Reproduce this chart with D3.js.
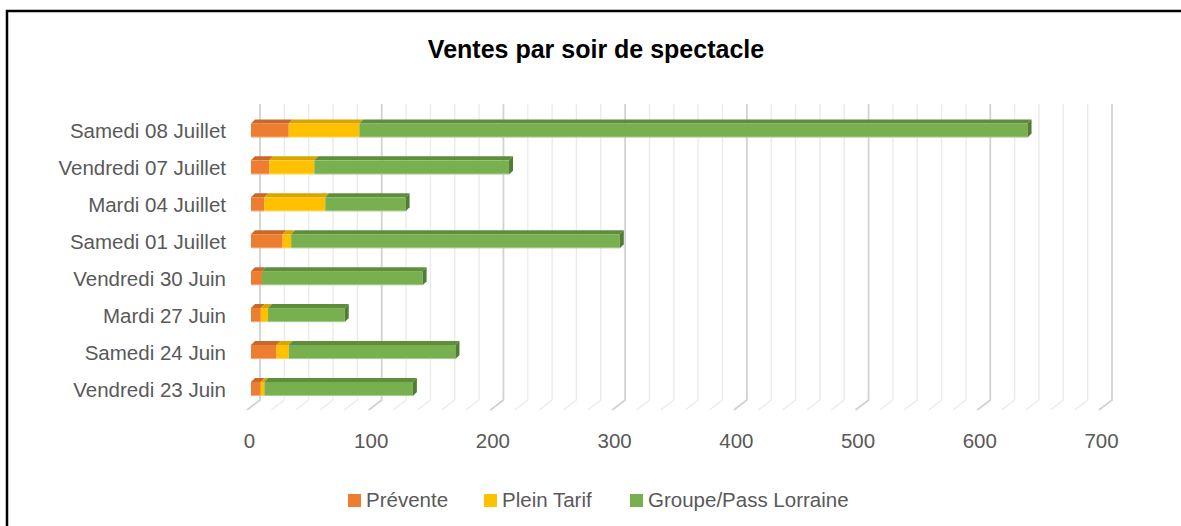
<!DOCTYPE html>
<html>
<head>
<meta charset="utf-8">
<script src="https://cdn.jsdelivr.net/npm/d3@7"></script>
<style>
  body { margin: 0; background: #fff; overflow: hidden; }
  svg { display: block; font-family: "Liberation Sans", Arial, sans-serif; }
</style>
</head>
<body>
<div id="chart"></div>
<script>
// data, top row first
var categories = ["Samedi 08 Juillet", "Vendredi 07 Juillet", "Mardi 04 Juillet", "Samedi 01 Juillet",
                  "Vendredi 30 Juin", "Mardi 27 Juin", "Samedi 24 Juin", "Vendredi 23 Juin"];
var series = ["Prévente", "Plein Tarif", "Groupe/Pass Lorraine"];
var prevente   = [31, 15, 11, 26, 9, 8, 21, 8];
var pleinTarif = [58, 37, 50, 7, 0, 6, 10, 3];
var groupePass = [549, 160, 66, 270, 132, 63, 137, 122];
var ticks = [0, 100, 200, 300, 400, 500, 600, 700];

var colors = {
  "Prévente":             { front: "#ED7D31", top: "#C8692A" },
  "Plein Tarif":          { front: "#FFC000", top: "#D9A400" },
  "Groupe/Pass Lorraine": { front: "#78B04F", top: "#5E8D3C", side: "#507C33" }
};

var W = 1181, H = 526;
var depth = 4;       // bar depth offset
var floorDx = -13, floorDy = 10;

var svg = d3.select("#chart").append("svg")
    .attr("width", W).attr("height", H);

svg.append("rect").attr("width", W).attr("height", H).attr("fill", "#fff");

// chart border (right and bottom run off the picture)
svg.append("rect")
    .attr("x", 7).attr("y", 11)
    .attr("width", W + 20).attr("height", H)
    .attr("fill", "none").attr("stroke", "#000").attr("stroke-width", 2.5);

// title
svg.append("text")
    .attr("x", 596).attr("y", 58)
    .attr("text-anchor", "middle")
    .attr("font-weight", "bold")
    .attr("font-size", 25)
    .attr("fill", "#000")
    .text("Ventes par soir de spectacle");

// scales
var xBack = d3.scaleLinear().domain([0, 700]).range([260, 1112]);
var xBar = d3.scaleLinear().domain([0, 700]).range([251, 1103]);
var xLabel = d3.scaleLinear().domain([0, 700]).range([249, 1101]);

var y = d3.scaleBand()
    .domain(categories)
    .range([112, 407.4])
    .paddingInner(0.62)
    .paddingOuter(0.31);

// gridlines on back wall + floor
var wallTop = 104, wallBottom = 400;
var grid = svg.append("g");
d3.range(0, 701, 20).forEach(function (v) {
    var major = v % 100 === 0;
    grid.append("path")
        .attr("d", "M" + xBack(v) + "," + wallTop + "V" + wallBottom +
              "l" + floorDx + "," + floorDy)
        .attr("fill", "none")
        .attr("stroke", major ? "#d2d2d2" : "#ebebeb")
        .attr("stroke-width", major ? 1.8 : 1.4);
});

// stacked bars
var rows = categories.map(function (c, i) {
    return { cat: c, "Prévente": prevente[i], "Plein Tarif": pleinTarif[i], "Groupe/Pass Lorraine": groupePass[i] };
});
var stacked = d3.stack().keys(series)(rows);

var bars = svg.append("g");
stacked.forEach(function (layer) {
    var col = colors[layer.key];
    layer.forEach(function (d) {
        if (d[1] - d[0] <= 0) return;
        var x0 = xBar(d[0]), x1 = xBar(d[1]);
        var y0 = y(d.data.cat), h = y.bandwidth();
        // top face
        bars.append("path")
            .attr("d", "M" + x0 + "," + y0 + "L" + x1 + "," + y0 +
                  "L" + (x1 + depth) + "," + (y0 - depth) + "L" + (x0 + depth) + "," + (y0 - depth) + "Z")
            .attr("fill", col.top);
        // front face
        bars.append("rect")
            .attr("x", x0).attr("y", y0)
            .attr("width", x1 - x0).attr("height", h)
            .attr("fill", col.front);
        // light lower edge
        bars.append("line")
            .attr("x1", x0).attr("x2", x1)
            .attr("y1", y0 + h - 0.5).attr("y2", y0 + h - 0.5)
            .attr("stroke", "#fff").attr("stroke-opacity", 0.35);
        // side face at the end of the last segment
        if (layer.key === "Groupe/Pass Lorraine") {
            bars.append("path")
                .attr("d", "M" + x1 + "," + y0 + "L" + (x1 + depth) + "," + (y0 - depth) +
                      "L" + (x1 + depth) + "," + (y0 + h - depth) + "L" + x1 + "," + (y0 + h) + "Z")
                .attr("fill", col.side);
        }
    });
});

// category axis
var yAxis = svg.append("g")
    .attr("transform", "translate(226,1)")
    .call(d3.axisLeft(y).tickSize(0).tickPadding(0));
yAxis.select(".domain").remove();
yAxis.selectAll("text")
    .attr("font-family", "'Liberation Sans', Arial, sans-serif")
    .attr("font-size", 20.5)
    .attr("fill", "#595959");

// value axis labels
var xAxis = svg.append("g")
    .attr("transform", "translate(0,433)")
    .call(d3.axisBottom(xLabel).tickValues(ticks).tickSize(0).tickPadding(0).tickFormat(d3.format("d")));
xAxis.select(".domain").remove();
xAxis.selectAll("text")
    .attr("font-family", "'Liberation Sans', Arial, sans-serif")
    .attr("font-size", 20.5)
    .attr("fill", "#595959");

// legend
var legendX = [348, 484, 630];
var legend = svg.append("g");
series.forEach(function (s, i) {
    legend.append("rect")
        .attr("x", legendX[i]).attr("y", 494)
        .attr("width", 13).attr("height", 13)
        .attr("fill", colors[s].front);
    legend.append("text")
        .attr("x", legendX[i] + 18).attr("y", 507)
        .attr("font-size", 20.5)
        .attr("fill", "#595959")
        .text(s);
});
</script>
</body>
</html>
